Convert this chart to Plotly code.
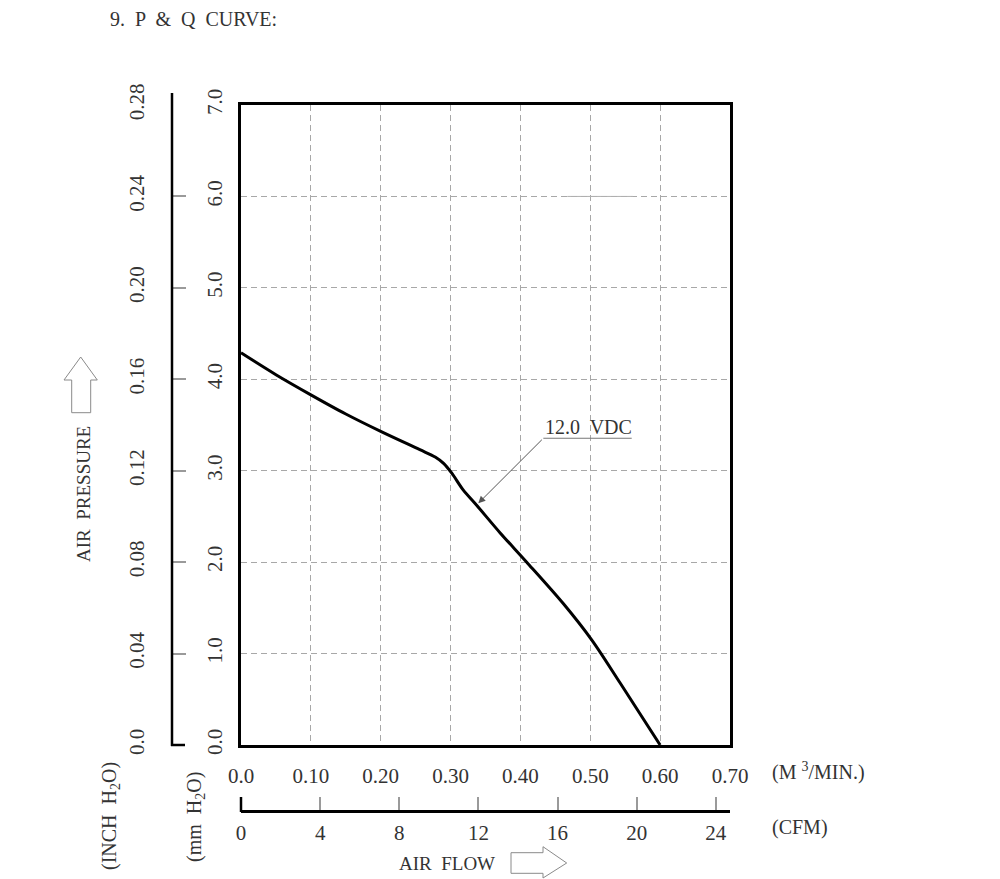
import plotly.graph_objects as go

# ---- data ----
flow_m3min = [0.000, 0.050, 0.100, 0.150, 0.200, 0.256, 0.278, 0.290, 0.302, 0.318,
              0.337, 0.371, 0.409, 0.461, 0.502, 0.543, 0.600]
pressure_mm = [4.29, 4.05, 3.83, 3.62, 3.43, 3.23, 3.15, 3.08, 2.97, 2.79,
               2.625, 2.32, 2.00, 1.55, 1.15, 0.675, 0.00]

x_ticks = [0.0, 0.1, 0.2, 0.3, 0.4, 0.5, 0.6, 0.7]
x_ticklabels = ["0.0", "0.10", "0.20", "0.30", "0.40", "0.50", "0.60", "0.70"]
mm_ticks = [0, 1, 2, 3, 4, 5, 6, 7]
mm_ticklabels = ["0.0", "1.0", "2.0", "3.0", "4.0", "5.0", "6.0", "7.0"]
inch_ticks = [0.0, 0.04, 0.08, 0.12, 0.16, 0.20, 0.24, 0.28]
inch_ticklabels = ["0.0", "0.04", "0.08", "0.12", "0.16", "0.20", "0.24", "0.28"]
cfm_ticks = [0, 4, 8, 12, 16, 20, 24]
cfm_ticklabels = ["0", "4", "8", "12", "16", "20", "24"]

X_MAX = 0.7
Y_MAX = 7.0
INCH_MAX = 0.28
M3MIN_PER_CFM = 0.0283168

W, H = 1000, 879
FONT = "Liberation Serif"
TXT = "#333333"
GRID = "#a8a8a8"


def px(x):
    return x / W


def py(y):
    return 1 - y / H


fig = go.Figure()

fig.add_trace(go.Scatter(
    x=flow_m3min, y=pressure_mm, mode="lines",
    line=dict(color="black", width=3, shape="spline", smoothing=0.9),
    showlegend=False, hoverinfo="skip"))
# invisible traces to attach the secondary axes
fig.add_trace(go.Scatter(x=[None], y=[None], xaxis="x2", yaxis="y", showlegend=False))
fig.add_trace(go.Scatter(x=[None], y=[None], xaxis="x", yaxis="y2", showlegend=False))

dom_x = [px(241), px(730)]
dom_y = [py(745), py(105)]

fig.update_layout(
    width=W, height=H,
    margin=dict(l=0, r=0, t=0, b=0),
    paper_bgcolor="white", plot_bgcolor="white",
    font=dict(family=FONT, color=TXT, size=21),
    xaxis=dict(domain=dom_x, range=[0, X_MAX], tickvals=x_ticks, ticktext=x_ticklabels,
               showgrid=True, gridcolor=GRID, griddash="6px,4px", gridwidth=1,
               showline=True, mirror=True, linecolor="black", linewidth=2.5,
               ticks="", ticklabelstandoff=10, zeroline=False, automargin=False,
               tickfont=dict(size=21, family=FONT, color=TXT)),
    yaxis=dict(domain=dom_y, range=[0, Y_MAX], tickvals=mm_ticks, ticktext=mm_ticklabels,
               showgrid=True, gridcolor=GRID, griddash="6px,4px", gridwidth=1,
               showline=True, mirror=True, linecolor="black", linewidth=2.5,
               ticks="", tickangle=-90, ticklabelstandoff=8, zeroline=False, automargin=False,
               tickfont=dict(size=21, family=FONT, color=TXT)),
    xaxis2=dict(overlaying="x", anchor="free", position=py(811), side="bottom",
                range=[0, X_MAX / M3MIN_PER_CFM], tickvals=cfm_ticks, ticktext=cfm_ticklabels,
                showgrid=False, zeroline=False, showline=True, linecolor="black", linewidth=2.5,
                ticks="inside", ticklen=13, tickcolor="#9a9a9a", tickwidth=1.5,
                ticklabelstandoff=2, automargin=False,
                tickfont=dict(size=21, family=FONT, color=TXT)),
    yaxis2=dict(overlaying="y", anchor="free", position=px(172), side="left",
                range=[0, INCH_MAX], tickvals=inch_ticks, ticktext=inch_ticklabels,
                showgrid=False, zeroline=False, showline=False,
                ticks="inside", ticklen=13, tickcolor="#9a9a9a", tickwidth=1.5,
                tickangle=-90, ticklabelstandoff=24, automargin=False,
                tickfont=dict(size=21, family=FONT, color=TXT)),
)

shapes = []
# inch axis line (extends a little above the top)
shapes.append(dict(type="line", xref="paper", yref="paper", x0=px(172), x1=px(172),
                   y0=py(93), y1=py(746), line=dict(color="black", width=2.5)))
# black zero tick of inch axis
shapes.append(dict(type="line", xref="paper", yref="paper", x0=px(171), x1=px(185),
                   y0=py(745), y1=py(745), line=dict(color="black", width=2.5)))
# black zero tick of CFM axis
shapes.append(dict(type="line", xref="paper", yref="paper", x0=px(241), x1=px(241),
                   y0=py(797), y1=py(812), line=dict(color="black", width=2.5)))
# small solid segment on the 6.0 grid line
shapes.append(dict(type="line", xref="x", yref="y", x0=0.467, x1=0.561, y0=6.0, y1=6.0,
                   line=dict(color="#b0b0b0", width=1)))
# underline of the 12.0 VDC label
shapes.append(dict(type="line", xref="x", yref="y", x0=0.4328, x1=0.5593, y0=3.355, y1=3.355,
                   line=dict(color="#777777", width=1)))
# up arrow (AIR PRESSURE)
up = [(80.7, 357), (97.3, 380), (90.7, 380), (90.7, 412.7), (71.7, 412.7), (71.7, 380), (64, 380)]
path = "M " + " L ".join(f"{px(a)},{py(b)}" for a, b in up) + " Z"
shapes.append(dict(type="path", xref="paper", yref="paper", path=path,
                   line=dict(color="#8a8a8a", width=1), fillcolor="rgba(0,0,0,0)"))
# right arrow (AIR FLOW)
rt = [(511, 852.7), (543, 852.7), (543, 846.7), (566.7, 863), (543, 878), (543, 873.3), (511, 873.3)]
path = "M " + " L ".join(f"{px(a)},{py(b)}" for a, b in rt) + " Z"
shapes.append(dict(type="path", xref="paper", yref="paper", path=path,
                   line=dict(color="#8a8a8a", width=1), fillcolor="rgba(0,0,0,0)"))
fig.update_layout(shapes=shapes)

ann = []


def label(text, x, y, size=20, angle=0, xanchor="center"):
    ann.append(dict(text=text, xref="paper", yref="paper", x=px(x), y=py(y),
                    xanchor=xanchor, yanchor="middle", showarrow=False, textangle=angle,
                    font=dict(family=FONT, size=size, color=TXT)))


label("9.  P  &  Q  CURVE:", 108, 19, size=20, xanchor="left")
label("(M <sup>3</sup>/MIN.)", 818, 771, size=20)
label("(CFM)", 800, 827, size=20)
label("AIR  FLOW", 447, 863, size=19)
label("AIR  PRESSURE", 83, 494, size=19, angle=-90)
label("(INCH  H<sub>2</sub>O)", 110, 816, size=20, angle=-90)
label("(mm  H<sub>2</sub>O)", 195, 817, size=20, angle=-90)
label("12.0  VDC", 588, 427, size=20)

# leader arrow pointing at the curve
ann.append(dict(text="", x=0.3397, y=2.644, xref="x", yref="y",
                ax=0.4328, ay=3.355, axref="x", ayref="y",
                showarrow=True, arrowhead=2, arrowsize=1.4, arrowwidth=1,
                arrowcolor="#555555"))
fig.update_layout(annotations=ann)

fig.write_html("out.html")
